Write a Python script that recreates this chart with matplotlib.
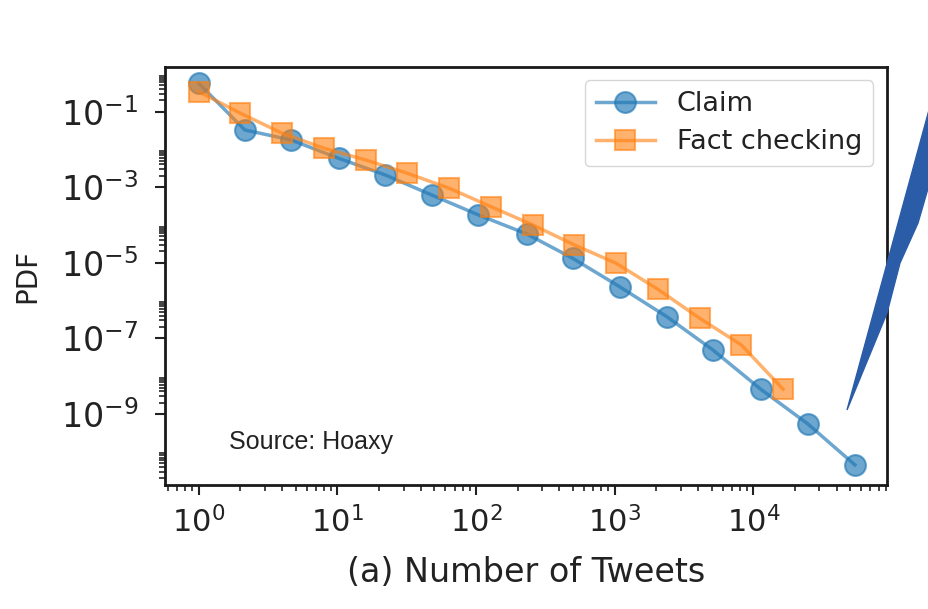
import numpy as np
import matplotlib
matplotlib.use("Agg")
import matplotlib.pyplot as plt
from matplotlib.ticker import FixedLocator, LogFormatterSciNotation, LogLocator, NullFormatter
from matplotlib.patches import Polygon

# values
claim_x = [1, 2.15, 4.65, 10.2, 22.2, 47.8, 104, 232, 498, 1100, 2370, 5100, 11300, 24700, 54000]
claim_y = [0.564, 0.0328, 0.0178, 5.85e-3, 2.11e-3, 6.25e-4, 1.85e-4, 5.82e-5, 1.32e-5,
           2.26e-6, 3.78e-7, 4.97e-8, 4.53e-9, 5.47e-10, 4.5e-11]
fact_x = [1, 2, 4, 8, 16, 32, 64, 128, 256, 512, 1024, 2048, 4096, 8192, 16384]
fact_y = [0.338, 0.0908, 0.0269, 0.0108, 5.27e-3, 2.34e-3, 9.42e-4, 3.07e-4, 1.01e-4,
          2.98e-5, 9.75e-6, 2.0e-6, 3.42e-7, 6.73e-8, 4.53e-9]
y_major = [1e-1, 1e-3, 1e-5, 1e-7, 1e-9]

W, H = 929, 609
fig = plt.figure(figsize=(W / 100, H / 100), dpi=100)
ax = fig.add_axes([165 / W, 1 - 485 / H, (886.7 - 165) / W, (485 - 66.7) / H])

ax.plot(claim_x, claim_y, marker='o', color='#1f77b4', alpha=0.65, lw=2.5,
        markersize=15, markeredgewidth=1.5, label='Claim')
ax.plot(fact_x, fact_y, marker='s', color='#ff7f0e', alpha=0.6, lw=2.5,
        markersize=15, markeredgewidth=1.5, label='Fact checking')

ax.set_xscale('log')
ax.set_yscale('log')
ax.set_xlim(10 ** -0.243, 10 ** 4.962)
ax.set_ylim(10 ** -10.88, 10 ** 0.19)

ax.set_xticks([1, 10, 100, 1000, 10000])
ax.xaxis.set_minor_locator(LogLocator(base=10, subs=np.arange(2, 10), numticks=20))
ax.xaxis.set_minor_formatter(NullFormatter())
ax.yaxis.set_major_locator(FixedLocator(y_major))
ax.yaxis.set_major_formatter(LogFormatterSciNotation())
ax.yaxis.set_minor_locator(FixedLocator([s * 10.0 ** k for k in range(-11, 0, 2) for s in range(2, 10)]))
ax.yaxis.set_minor_formatter(NullFormatter())

ax.tick_params(which='major', length=7, width=1.5, direction='out', colors='#222222')
ax.tick_params(which='minor', length=4, width=1.2, direction='out', colors='#222222')
ax.tick_params(axis='x', which='major', labelsize=22, pad=8)
ax.tick_params(axis='y', which='major', labelsize=24, pad=12)
for sp in ax.spines.values():
    sp.set_linewidth(2)
    sp.set_color('#1a1a1a')

ax.set_xlabel('(a) Number of Tweets', fontsize=24, labelpad=13, color='#222222')
ax.set_ylabel('PDF', fontsize=20, labelpad=14, color='#222222')

ax.text(0.088, 0.085, 'Source: Hoaxy', transform=ax.transAxes, fontsize=18,
        family='Liberation Sans', color='#222222')

leg = ax.legend(loc='upper right', fontsize=19.5, framealpha=0.8, edgecolor='#cccccc',
                borderpad=0.4, handlelength=2.2, labelspacing=0.45)
for t in leg.get_texts():
    t.set_color('#222222')

# decorative wedge from the slide
wedge_px = [(847, 410), (929, 110), (929, 185), (918, 223), (900, 263), (887, 313)]
wedge = Polygon([(x / W, 1 - y / H) for x, y in wedge_px],
                closed=True, transform=fig.transFigure, color='#2b5ca8', clip_on=False)
fig.patches.append(wedge)

fig.savefig('out.png', dpi=100)
